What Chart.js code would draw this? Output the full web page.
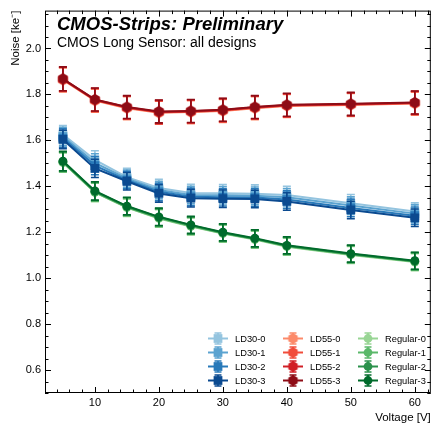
<!DOCTYPE html>
<html>
<head>
<meta charset="utf-8">
<script src="https://cdn.jsdelivr.net/npm/chart.js@4.4.0/dist/chart.umd.min.js"></script>
<style>
  html, body { margin: 0; padding: 0; background: #ffffff; }
  #wrap { width: 437px; height: 425px; }
</style>
</head>
<body>
<div id="wrap"><canvas id="noiseChart" width="437" height="425"></canvas></div>
<script>
// bias voltage points [V]
const voltages = [5, 10, 15, 20, 25, 30, 35, 40, 50, 60];

// noise [ke-] per design
const ld30_0 = [1.625, 1.515, 1.440, 1.393, 1.371, 1.370, 1.368, 1.362, 1.326, 1.290];
const ld30_1 = [1.617, 1.502, 1.433, 1.384, 1.362, 1.361, 1.359, 1.352, 1.316, 1.281];
const ld30_2 = [1.610, 1.490, 1.427, 1.376, 1.354, 1.352, 1.351, 1.342, 1.306, 1.272];
const ld30_3 = [1.604, 1.478, 1.422, 1.369, 1.348, 1.346, 1.345, 1.334, 1.297, 1.263];

const ld55_0 = [1.863, 1.773, 1.740, 1.720, 1.723, 1.728, 1.740, 1.750, 1.754, 1.760];
const ld55_1 = [1.865, 1.775, 1.742, 1.722, 1.725, 1.730, 1.742, 1.752, 1.756, 1.762];
const ld55_2 = [1.867, 1.777, 1.744, 1.724, 1.727, 1.732, 1.744, 1.753, 1.757, 1.764];
const ld55_3 = [1.868, 1.778, 1.745, 1.726, 1.728, 1.733, 1.745, 1.755, 1.759, 1.765];

const reg_0 = [1.503, 1.373, 1.307, 1.260, 1.225, 1.194, 1.168, 1.137, 1.101, 1.070];
const reg_1 = [1.505, 1.375, 1.309, 1.262, 1.227, 1.196, 1.170, 1.139, 1.103, 1.072];
const reg_2 = [1.508, 1.378, 1.312, 1.265, 1.230, 1.198, 1.172, 1.141, 1.105, 1.074];
const reg_3 = [1.510, 1.380, 1.314, 1.267, 1.232, 1.200, 1.174, 1.143, 1.107, 1.076];

// uncertainties
const ld30Err = [0.040, 0.040, 0.038, 0.038, 0.038, 0.038, 0.038, 0.038, 0.038, 0.038];
const ld55Err = [0.052, 0.050, 0.050, 0.050, 0.050, 0.050, 0.050, 0.050, 0.050, 0.050];
const regErr  = [0.042, 0.040, 0.038, 0.038, 0.037, 0.037, 0.037, 0.037, 0.037, 0.037];

const labels = ['LD30-0', 'LD30-1', 'LD30-2', 'LD30-3',
                'LD55-0', 'LD55-1', 'LD55-2', 'LD55-3',
                'Regular-0', 'Regular-1', 'Regular-2', 'Regular-3'];

const xTicks = [10, 20, 30, 40, 50, 60];
const yTicks = [0.6, 0.8, 1.0, 1.2, 1.4, 1.6, 1.8, 2.0];

const blues  = ['#94c4df', '#5ba3d0', '#2879b9', '#0b4a90'];
const reds   = ['#fc8a6a', '#f14c3a', '#d11f26', '#8e0c16'];
const greens = ['#98d594', '#5bb86a', '#2b914b', '#006b2b'];

const FONT = '"Liberation Sans", Arial, Helvetica, sans-serif';

function hexagonMarker(color, r) {
    const size = Math.ceil(r * 2 + 2);
    const c = document.createElement('canvas');
    c.width = size;
    c.height = size;
    const g = c.getContext('2d');
    g.fillStyle = color;
    g.beginPath();
    for (let i = 0; i < 6; i++) {
        const a = -Math.PI / 2 + i * Math.PI / 3;
        g.lineTo(size / 2 + r * Math.cos(a), size / 2 + r * Math.sin(a));
    }
    g.closePath();
    g.fill();
    return c;
}

function makeSet(label, values, err, color, style, radius, idx) {
    return {
        label: label,
        data: voltages.map((v, i) => ({ x: v, y: values[i] })),
        err: err,
        borderColor: color,
        backgroundColor: color,
        borderWidth: 2,
        pointStyle: style,
        pointRadius: radius,
        pointHoverRadius: radius,
        pointBackgroundColor: color,
        pointBorderColor: color,
        pointBorderWidth: 0,
        tension: 0,
        order: -idx
    };
}

const seriesValues = [ld30_0, ld30_1, ld30_2, ld30_3, ld55_0, ld55_1, ld55_2, ld55_3, reg_0, reg_1, reg_2, reg_3];
const datasets = seriesValues.map((vals, i) => {
    const group = Math.floor(i / 4), k = i % 4;
    if (group === 0) return makeSet(labels[i], vals, ld30Err, blues[k], 'rect', 6.2, i);
    if (group === 1) return makeSet(labels[i], vals, ld55Err, reds[k], hexagonMarker(reds[k], 5.4), 5, i);
    return makeSet(labels[i], vals, regErr, greens[k], 'circle', 4.4, i);
});

// inward ticks, frame, error bars, legend and text
const decorPlugin = {
    id: 'decor',
    beforeDatasetDraw(chart, args) {
        const ds = chart.data.datasets[args.index];
        const yS = chart.scales.y;
        const ctx = chart.ctx;
        ctx.save();
        ctx.strokeStyle = ds.borderColor;
        ctx.lineWidth = 1.6;
        args.meta.data.forEach((pt, i) => {
            const v = ds.data[i].y, e = ds.err[i];
            const yTop = yS.getPixelForValue(v + e);
            const yBot = yS.getPixelForValue(v - e);
            ctx.beginPath();
            ctx.moveTo(pt.x, yTop); ctx.lineTo(pt.x, yBot);
            ctx.moveTo(pt.x - 4, yTop); ctx.lineTo(pt.x + 4, yTop);
            ctx.moveTo(pt.x - 4, yBot); ctx.lineTo(pt.x + 4, yBot);
            ctx.stroke();
        });
        ctx.restore();
    },
    afterDraw(chart) {
        const ctx = chart.ctx;
        const a = chart.chartArea;
        const xS = chart.scales.x, yS = chart.scales.y;
        ctx.save();

        // frame
        ctx.strokeStyle = '#000';
        ctx.lineWidth = 1;
        ctx.strokeRect(a.left + 0.5, a.top + 0.5, a.right - a.left - 1, a.bottom - a.top - 1);

        // x ticks (major every 10, minor every 2)
        ctx.beginPath();
        for (let v = 4; v <= xS.max; v += 2) {
            const px = Math.round(xS.getPixelForValue(v)) + 0.5;
            const len = (v % 10 === 0) ? 6 : 3.5;
            ctx.moveTo(px, a.bottom); ctx.lineTo(px, a.bottom - len);
            ctx.moveTo(px, a.top); ctx.lineTo(px, a.top + len);
        }
        // y ticks (major every 0.2, minor every 0.05)
        for (let n = 10; n * 0.05 <= yS.max; n++) {
            const v = n * 0.05;
            const py = Math.round(yS.getPixelForValue(v)) + 0.5;
            const len = (n % 4 === 0) ? 6 : 3.5;
            ctx.moveTo(a.left, py); ctx.lineTo(a.left + len, py);
            ctx.moveTo(a.right, py); ctx.lineTo(a.right - len, py);
        }
        ctx.stroke();

        // titles
        ctx.fillStyle = '#000';
        ctx.textAlign = 'left';
        ctx.textBaseline = 'alphabetic';
        ctx.font = 'italic bold 18.5px ' + FONT;
        ctx.fillText('CMOS-Strips: Preliminary', a.left + 12, 29.5);
        ctx.font = '14px ' + FONT;
        ctx.fillText('CMOS Long Sensor: all designs', a.left + 12, 47);

        // axis labels
        ctx.font = '11.5px ' + FONT;
        ctx.textAlign = 'right';
        ctx.fillText('Voltage [V]', a.right, 421);
        ctx.save();
        ctx.translate(18.5, a.top);
        ctx.rotate(-Math.PI / 2);
        ctx.textAlign = 'right';
        ctx.fillText('Noise [ke\u207B]', 0, 0);
        ctx.restore();

        // legend, three columns of four
        const colMarker = [218, 293, 368];
        const rowY = [338.5, 352.5, 366.5, 380.5];
        ctx.font = '9.3px ' + FONT;
        ctx.textAlign = 'left';
        ctx.textBaseline = 'middle';
        chart.data.datasets.forEach((ds, i) => {
            const col = Math.floor(i / 4), row = i % 4;
            const mx = colMarker[col], my = rowY[row];
            ctx.strokeStyle = ds.borderColor;
            ctx.fillStyle = ds.borderColor;
            ctx.lineWidth = 2;
            ctx.beginPath();
            ctx.moveTo(mx - 10, my); ctx.lineTo(mx + 10, my);
            ctx.stroke();
            ctx.lineWidth = 1.6;
            ctx.beginPath();
            ctx.moveTo(mx, my - 5.5); ctx.lineTo(mx, my + 5.5);
            ctx.moveTo(mx - 3.5, my - 5.5); ctx.lineTo(mx + 3.5, my - 5.5);
            ctx.moveTo(mx - 3.5, my + 5.5); ctx.lineTo(mx + 3.5, my + 5.5);
            ctx.stroke();
            Chart.helpers.drawPoint(ctx, { pointStyle: ds.pointStyle, radius: ds.pointRadius, borderWidth: 0, rotation: 0 }, mx, my);
            ctx.fillStyle = '#000';
            ctx.fillText(ds.label, mx + 17, my + 0.5);
        });
        ctx.restore();
    }
};

const ctx = document.getElementById('noiseChart');
new Chart(ctx, {
    type: 'line',
    data: { datasets: datasets },
    options: {
        responsive: false,
        animation: false,
        layout: { padding: { top: 4, right: 5, left: 0, bottom: 0 } },
        plugins: {
            legend: { display: false },
            tooltip: { enabled: false }
        },
        scales: {
            x: {
                type: 'linear',
                min: 2.2,
                max: 62.5,
                grid: { display: false, drawTicks: false },
                border: { display: false },
                afterBuildTicks: (scale) => { scale.ticks = xTicks.map(v => ({ value: v })); },
                afterFit: (scale) => { scale.height = 32; },
                ticks: {
                    padding: 3,
                    color: '#000',
                    maxRotation: 0,
                    font: { family: FONT, size: 11 },
                    callback: (v) => String(v)
                }
            },
            y: {
                type: 'linear',
                min: 0.5,
                max: 2.165,
                grid: { display: false, drawTicks: false },
                border: { display: false },
                afterBuildTicks: (scale) => { scale.ticks = yTicks.map(v => ({ value: v })); },
                afterFit: (scale) => { scale.width = 45; },
                ticks: {
                    padding: 4,
                    color: '#000',
                    font: { family: FONT, size: 11 },
                    callback: (v) => Number(v).toFixed(1)
                }
            }
        }
    },
    plugins: [decorPlugin]
});
</script>
</body>
</html>
